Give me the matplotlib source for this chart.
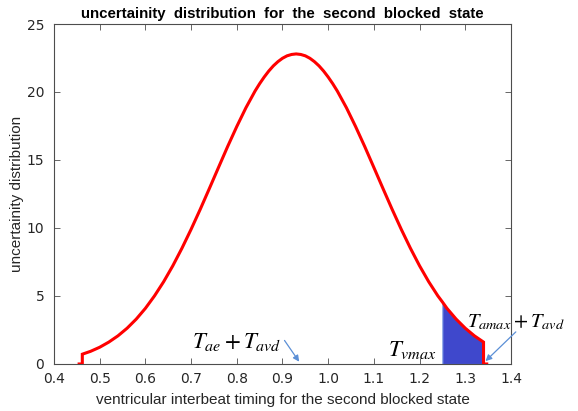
import matplotlib
matplotlib.use("Agg")
import matplotlib.pyplot as plt

# interbeat timing (s) and density of the truncated distribution
timing = [0.455, 0.462, 0.462, 0.48, 0.50, 0.52, 0.54, 0.56, 0.58, 0.60, 0.62,
          0.64, 0.66, 0.68, 0.70, 0.72, 0.74, 0.76, 0.78, 0.80, 0.82, 0.84,
          0.85, 0.86, 0.87, 0.88, 0.89, 0.90, 0.91, 0.92, 0.93, 0.94, 0.95,
          0.96, 0.97, 0.98, 0.99, 1.00, 1.01, 1.02, 1.04, 1.06,
          1.08, 1.10, 1.12, 1.14, 1.16, 1.18, 1.20, 1.22, 1.24, 1.25, 1.26,
          1.28, 1.30, 1.32, 1.34, 1.34, 1.347]
density = [0.0, 0.0, 0.72, 0.93, 1.23, 1.61, 2.07, 2.63, 3.30, 4.09, 5.01,
           6.05, 7.22, 8.51, 9.90, 11.37, 12.90, 14.45, 15.99, 17.46, 18.84, 20.07,
           20.61, 21.10, 21.54, 21.92, 22.23, 22.48, 22.66, 22.76, 22.80, 22.76, 22.66,
           22.48, 22.23, 21.92, 21.54, 21.10, 20.61, 20.07, 18.84, 17.46,
           15.99, 14.45, 12.90, 11.37, 9.90, 8.51, 7.22, 6.05, 5.01, 4.56, 4.09,
           3.30, 2.63, 2.07, 1.61, 0.0, 0.0]

t_vmax = 1.25
t_amax_avd = 1.34
t_ae_avd = 0.94

axis_col = "#4d4d4d"
text_col = "#262626"
arrow_col = "#5b8fd6"

plt.rcParams["mathtext.fontset"] = "stix"

fig = plt.figure(figsize=(5.78, 4.11), dpi=100)
ax = fig.add_axes([0.0934, 0.1144, 0.7906, 0.8272])

# shaded region between T_vmax and T_amax + T_avd
shade_x = [x for x, y in zip(timing, density) if t_vmax <= x <= t_amax_avd and y > 0]
shade_y = [y for x, y in zip(timing, density) if t_vmax <= x <= t_amax_avd and y > 0]
ax.fill_between(shade_x, 0, shade_y, color="#3f48cc", edgecolor="#6f8fe0",
                linewidth=0.8, zorder=2)

ax.plot(timing, density, color="red", linewidth=2.2, zorder=3,
        solid_joinstyle="miter")

ax.set_xlim(0.4, 1.4)
ax.set_ylim(0, 25)
ax.set_xticks([0.4, 0.5, 0.6, 0.7, 0.8, 0.9, 1.0, 1.1, 1.2, 1.3, 1.4])
ax.set_yticks([0, 5, 10, 15, 20, 25])
ax.tick_params(direction="in", top=True, right=True, length=4, width=0.6,
               colors=axis_col, labelcolor=text_col, labelsize=10)
ax.tick_params(axis="x", pad=6)
ax.tick_params(axis="y", pad=7)
for s in ax.spines.values():
    s.set_color(axis_col)
    s.set_linewidth(0.8)

ax.set_title("uncertainity  distribution  for  the  second  blocked  state",
             fontsize=10.8, fontweight="bold", family="Liberation Sans", pad=4)
ax.set_xlabel("ventricular interbeat timing for the second blocked state",
              fontsize=11, family="Liberation Sans", color=text_col, labelpad=5)
ax.set_ylabel("uncertainity distribution", fontsize=11,
              family="Liberation Sans", color=text_col, labelpad=2)

# annotations with arrows
ax.annotate("", xy=(t_ae_avd, 0), xytext=(0.901, 1.9),
            arrowprops=dict(arrowstyle="-|>", color=arrow_col, lw=0.9,
                            mutation_scale=9), annotation_clip=False)
ax.text(0.80, 1.62, r"$T_{ae} + T_{avd}$", fontsize=16.5, ha="center", va="center",
        color="black")

ax.text(1.183, 1.03, r"$T_{vmax}$", fontsize=16.5, ha="center", va="center",
        color="black")

ax.annotate("", xy=(t_amax_avd, 0.07), xytext=(1.415, 2.5),
            arrowprops=dict(arrowstyle="-|>", color=arrow_col, lw=0.9,
                            mutation_scale=9), annotation_clip=False)
ax.text(1.303, 3.1, r"$T_{amax} + T_{avd}$", fontsize=14.8, ha="left", va="center",
        color="black", clip_on=False)

fig.savefig("out.png", dpi=100, facecolor="white")
